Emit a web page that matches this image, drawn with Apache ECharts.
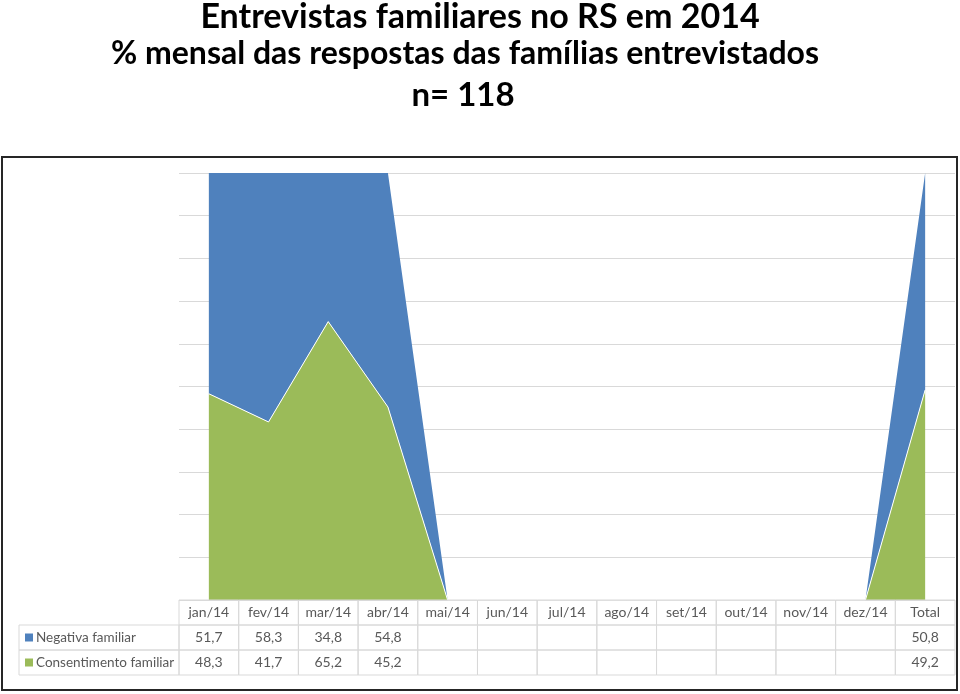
<!DOCTYPE html>
<html><head><meta charset="utf-8">
<script src="https://cdn.jsdelivr.net/npm/echarts@6/dist/echarts.min.js"></script>
<style>html,body{margin:0;padding:0;background:#fff}#c{width:960px;height:694px}</style>
</head><body><div id="c"></div>
<script>
var categories = ['jan/14','fev/14','mar/14','abr/14','mai/14','jun/14','jul/14','ago/14','set/14','out/14','nov/14','dez/14','Total'];
var negativa = [51.7, 58.3, 34.8, 54.8, null, null, null, null, null, null, null, null, 50.8];
var consentimento = [48.3, 41.7, 65.2, 45.2, null, null, null, null, null, null, null, null, 49.2];
var seriesNames = ['Negativa familiar', 'Consentimento familiar'];
var titleLines = ['Entrevistas familiares no RS em 2014', '% mensal das respostas das famílias entrevistados', 'n= 118'];
var yTicks = [0,10,20,30,40,50,60,70,80,90,100];

var BLUE = '#4f81bd', GREEN = '#9bbb59', TXT = '#595959', BORDER = '#d9d9d9';
var FONT = 'Lato, "Open Sans", sans-serif';

function fmt(v){ return v == null ? '' : v.toFixed(1).replace('.', ','); }
function asZero(arr){ return arr.map(function(v){ return v == null ? 0 : v; }); }

// table cells: [col, row, text, kind]
var tableData = [];
categories.forEach(function(c, i){ tableData.push([i, 0, c, 'h']); });
negativa.forEach(function(v, i){ tableData.push([i, 1, fmt(v), 'v']); });
consentimento.forEach(function(v, i){ tableData.push([i, 2, fmt(v), 'v']); });
tableData.push([0, 1, seriesNames[0], 'l', BLUE]);
tableData.push([0, 2, seriesNames[1], 'l', GREEN]);

var titlePos = [[480, 17, 34], [465, 54, 32], [463, 95, 33]];
var titleGraphics = titleLines.map(function(t, i){
  return { type: 'text', x: titlePos[i][0], y: titlePos[i][1],
    style: { text: t, align: 'center', verticalAlign: 'middle', fill: '#000',
      font: 'bold ' + titlePos[i][2] + 'px Lato, "Open Sans", sans-serif' } };
});

var chart = echarts.init(document.getElementById('c'));
var LEFT = 179, RIGHT = 5, LABELW = 160;
chart.setOption({
  animation: false,
  graphic: titleGraphics.concat([{
    type: 'rect', shape: { x: 2, y: 157, width: 955, height: 533 },
    style: { fill: 'none', stroke: '#262626', lineWidth: 2 }, z: 100
  }]),
  grid: [
    { left: LEFT, right: RIGHT, top: 173, bottom: 94 },
    { left: LEFT, right: RIGHT, top: 600, bottom: 19 }
  ],
  xAxis: [
    { type: 'category', data: categories, boundaryGap: true, gridIndex: 0,
      axisLine: { show: false }, axisTick: { show: false }, axisLabel: { show: false } },
    { type: 'category', data: categories, boundaryGap: true, gridIndex: 1, show: false }
  ],
  yAxis: [
    { type: 'value', min: yTicks[0], max: yTicks[yTicks.length-1], interval: yTicks[1]-yTicks[0], gridIndex: 0,
      axisLine: { show: false }, axisTick: { show: false }, axisLabel: { show: false },
      splitLine: { lineStyle: { color: BORDER, width: 1 } } },
    { type: 'category', data: ['h','n','c'], inverse: true, gridIndex: 1, show: false }
  ],
  series: [
    { name: seriesNames[1], type: 'line', stack: 'total', data: asZero(consentimento),
      xAxisIndex: 0, yAxisIndex: 0, symbol: 'none',
      lineStyle: { color: '#ffffff', width: 1 }, areaStyle: { color: GREEN, opacity: 1 }, z: 2 },
    { name: seriesNames[0], type: 'line', stack: 'total', data: asZero(negativa),
      xAxisIndex: 0, yAxisIndex: 0, symbol: 'none',
      lineStyle: { color: '#ffffff', width: 1, opacity: 0 }, areaStyle: { color: BLUE, opacity: 1 }, z: 1 },
    { type: 'custom', xAxisIndex: 1, yAxisIndex: 1, data: tableData, z: 5,
      renderItem: function(params, api){
        var c = api.value(0), r = api.value(1);
        var d = tableData[params.dataIndex];
        var p = api.coord([c, r]);
        var s = api.size([1, 1]);
        var x = p[0] - s[0]/2, y = p[1] - s[1]/2, w = s[0], h = s[1];
        var children = [];
        if (d[3] === 'l') {
          x = x - LABELW; w = LABELW;
          children.push({ type: 'rect', shape: { x: x, y: y, width: w, height: h }, style: { fill: 'none', stroke: BORDER, lineWidth: 1 } });
          children.push({ type: 'rect', shape: { x: x + 6, y: p[1] - 4, width: 8, height: 8 }, style: { fill: d[4] } });
          children.push({ type: 'text', style: { text: d[2], x: x + 17, y: p[1], align: 'left', verticalAlign: 'middle', fill: TXT, font: '13.5px ' + FONT } });
        } else {
          children.push({ type: 'rect', shape: { x: x, y: y, width: w, height: h }, style: { fill: 'none', stroke: BORDER, lineWidth: 1 } });
          children.push({ type: 'text', style: { text: d[2], x: p[0], y: p[1], align: 'center', verticalAlign: 'middle', fill: TXT, font: '14px ' + FONT } });
        }
        return { type: 'group', children: children };
      }
    }
  ]
});
</script></body></html>
